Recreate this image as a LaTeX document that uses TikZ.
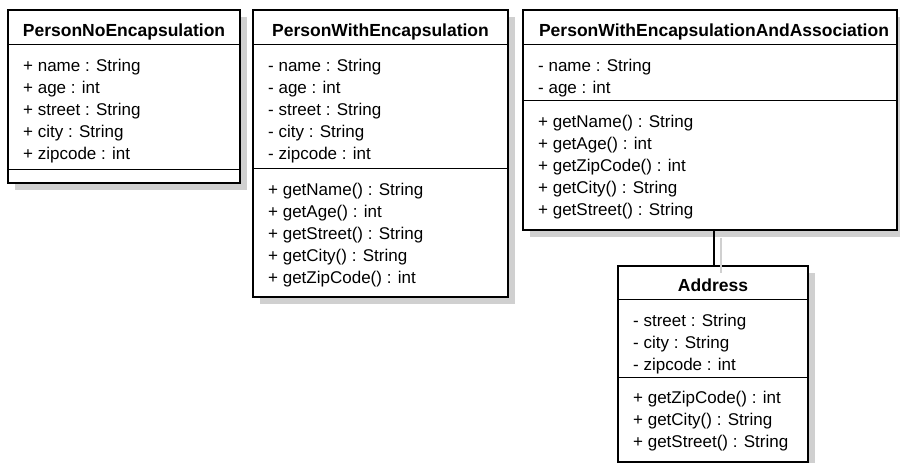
\documentclass[tikz,border=0pt]{standalone}
\usepackage{fontspec}
\setmainfont{Liberation Sans}
\definecolor{shadowgray}{RGB}{208,208,208}
\begin{document}
\begin{tikzpicture}[x=1pt,y=-1pt,
  umlbox/.style={draw=black, line width=2.6pt, fill=white, inner sep=0pt, outer sep=0pt, anchor=north west},
  sep/.style={draw=black, line width=1pt},
  classtitle/.style={font=\fontsize{17.5}{21}\selectfont\bfseries, inner sep=0pt, anchor=base},
  member/.style={font=\fontsize{17}{22}\selectfont, inner sep=0pt, anchor=base west},
  link/.style={draw=black, line width=1.8pt},
  linkshadow/.style={draw=shadowgray, line width=1.6pt},
]
\useasboundingbox (0,0) rectangle (900,463);
\fill[white] (0,0) rectangle (900,463);

% drop shadows of the class boxes
\fill[shadowgray] (15,17) rectangle (247,190);
\fill[shadowgray] (260,17) rectangle (515,304);
\fill[shadowgray] (530,17) rectangle (904,237);
\fill[shadowgray] (625,273) rectangle (815,469);

% ---------- PersonNoEncapsulation ----------
\node[umlbox, minimum width=232pt, minimum height=173pt] (b1) at (8,10) {};
\draw[sep] (b1.west |- 0,44) -- (b1.east |- 0,44);
\draw[sep] (b1.west |- 0,169) -- (b1.east |- 0,169);
\node[classtitle] (t1) at (124,36) {PersonNoEncapsulation};
\foreach \txt [count=\i] in {{+ name : String},{+ age : int},{+ street : String},{+ city : String},{+ zipcode : int}}
  \node[member] (b1a\i) at (23,{71+22*(\i-1)}) {\txt};

% ---------- PersonWithEncapsulation ----------
\node[umlbox, minimum width=255pt, minimum height=287pt] (b2) at (253,10) {};
\draw[sep] (b2.west |- 0,44) -- (b2.east |- 0,44);
\draw[sep] (b2.west |- 0,168) -- (b2.east |- 0,168);
\node[classtitle] (t2) at (380.5,36) {PersonWithEncapsulation};
\foreach \txt [count=\i] in {{- name : String},{- age : int},{- street : String},{- city : String},{- zipcode : int}}
  \node[member] (b2a\i) at (268,{71+22*(\i-1)}) {\txt};
\foreach \txt [count=\i] in {{+ getName() : String},{+ getAge() : int},{+ getStreet() : String},{+ getCity() : String},{+ getZipCode() : int}}
  \node[member] (b2m\i) at (268,{195+22*(\i-1)}) {\txt};

% ---------- PersonWithEncapsulationAndAssociation ----------
\node[umlbox, minimum width=374pt, minimum height=220pt] (b3) at (523,10) {};
\draw[sep] (b3.west |- 0,44) -- (b3.east |- 0,44);
\draw[sep] (b3.west |- 0,100) -- (b3.east |- 0,100);
\node[classtitle] (t3) at (714,36) {PersonWithEncapsulationAndAssociation};
\foreach \txt [count=\i] in {{- name : String},{- age : int}}
  \node[member] (b3a\i) at (538,{71+22*(\i-1)}) {\txt};
\foreach \txt [count=\i] in {{+ getName() : String},{+ getAge() : int},{+ getZipCode() : int},{+ getCity() : String},{+ getStreet() : String}}
  \node[member] (b3m\i) at (538,{127+22*(\i-1)}) {\txt};

% ---------- Address ----------
\node[umlbox, minimum width=190pt, minimum height=196pt] (addr) at (618,266) {};
\draw[sep] (addr.west |- 0,299) -- (addr.east |- 0,299);
\draw[sep] (addr.west |- 0,377) -- (addr.east |- 0,377);
\node[classtitle] (t4) at (713,291) {Address};
\foreach \txt [count=\i] in {{- street : String},{- city : String},{- zipcode : int}}
  \node[member] (ada\i) at (633,{326+22*(\i-1)}) {\txt};
\foreach \txt [count=\i] in {{+ getZipCode() : int},{+ getCity() : String},{+ getStreet() : String}}
  \node[member] (adm\i) at (633,{403+22*(\i-1)}) {\txt};

% association between the person class and its address
\coordinate (cx) at (714,0);
\draw[link] (b3.south -| cx) -- (addr.north -| cx);
\draw[linkshadow] ([xshift=7pt,yshift=-8pt]b3.south -| cx) -- ([xshift=7pt,yshift=-7pt]addr.north -| cx);
\end{tikzpicture}
\end{document}
